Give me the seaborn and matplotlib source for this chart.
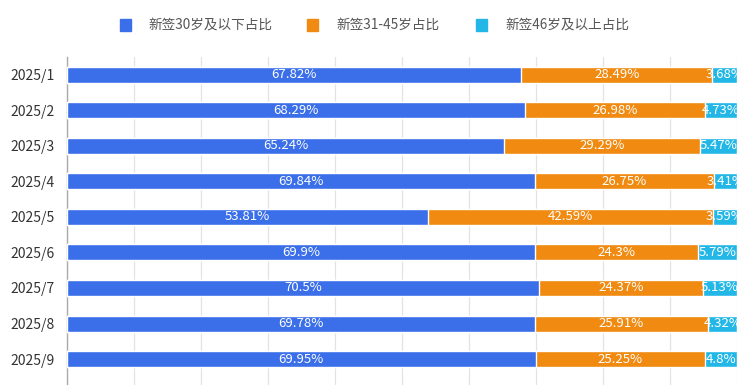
import matplotlib
matplotlib.use("Agg")
import matplotlib.pyplot as plt
import seaborn as sns
import pandas as pd
import numpy as np
from matplotlib.patches import Rectangle

months = ["2025/1", "2025/2", "2025/3", "2025/4", "2025/5", "2025/6", "2025/7", "2025/8", "2025/9"]
young = [67.82, 68.29, 65.24, 69.84, 53.81, 69.9, 70.5, 69.78, 69.95]
middle = [28.49, 26.98, 29.29, 26.75, 42.59, 24.3, 24.37, 25.91, 25.25]
senior = [3.68, 4.73, 5.47, 3.41, 3.59, 5.79, 5.13, 4.32, 4.8]
series_names = ["新签30岁及以下占比", "新签31-45岁占比", "新签46岁及以上占比"]
colors = ["#3a6fe9", "#f08a10", "#22b7e6"]

sns.set_theme(style="white")
plt.rcParams['font.family'] = ['Noto Sans CJK SC', 'DejaVu Sans']

df = pd.DataFrame({"month": months, "young": young, "middle": middle, "senior": senior})
df["c1"] = df["young"]
df["c2"] = df["young"] + df["middle"]
df["c3"] = df["c2"] + df["senior"]

W, H = 750, 385
fig = plt.figure(figsize=(W / 100, H / 100), dpi=100)
ax = fig.add_axes([67 / W, 0, (737 - 67) / W, (385 - 57) / H])

for col, color in zip(["c3", "c2", "c1"], colors[::-1]):
    sns.barplot(data=df, x=col, y="month", orient="h", color=color, width=0.45,
                saturation=1, ax=ax, zorder=3)

ax.set_xlim(0, 100)
ax.set_ylim(8.73, -0.5)
ax.set_xticks(np.arange(0, 101, 10))
ax.set_xticklabels([])
ax.tick_params(axis="x", length=0)
ax.tick_params(axis="y", length=0, labelsize=10, labelcolor="#333333", pad=9)
ax.grid(axis="x", color="#e3e3e3", linewidth=0.9, zorder=0)
ax.set_xlabel("")
ax.set_ylabel("")
for s in ["top", "right", "bottom"]:
    ax.spines[s].set_visible(False)
ax.spines["left"].set_color("#aaaaaa")
ax.spines["left"].set_linewidth(1)

for i in range(len(months)):
    starts = [0, young[i], young[i] + middle[i]]
    vals = [young[i], middle[i], senior[i]]
    for st, v in zip(starts, vals):
        ax.text(st + v / 2, i, f"{v:g}%", ha="center", va="center", color="white",
                fontsize=9.5, zorder=5, clip_on=True)

# legend (manually placed entries)
sq_x = [120, 307, 476]
tx_x = [148, 336, 505]
ly = 25
for c, name, sx, tx in zip(colors, series_names, sq_x, tx_x):
    fig.patches.append(Rectangle((sx / W, 1 - (ly + 5.5) / H), 11 / W, 11 / H,
                                 transform=fig.transFigure, color=c, figure=fig))
    fig.text(tx / W, 1 - ly / H, name, ha="left", va="center", fontsize=9.8, color="#555555")

fig.savefig("out.png", dpi=100)
